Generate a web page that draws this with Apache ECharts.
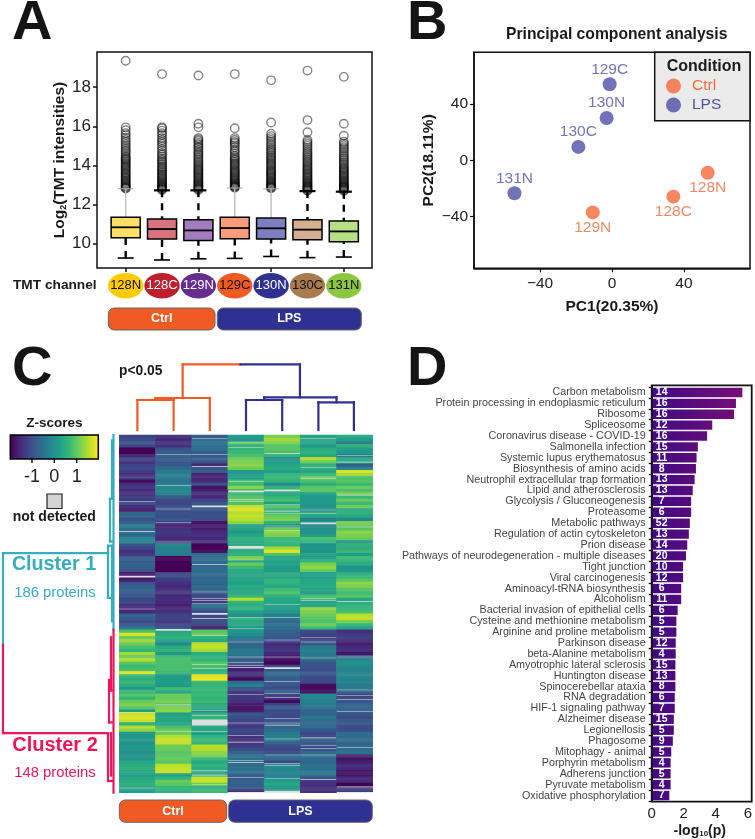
<!DOCTYPE html>
<html><head><meta charset="utf-8">
<style>html,body{margin:0;padding:0;background:#fff}#c{width:755px;height:839px}</style>
<script src="https://cdn.jsdelivr.net/npm/echarts@6/dist/echarts.min.js"></script>
</head><body><div id="c"></div>
<script>
// ---------- Panel A data ----------
const channels = ['128N','128C','129N','129C','130N','130C','131N'];
const whiskerLow  = [9.27,9.17,9.23,9.25,9.35,9.29,9.32];
const boxQ1       = [10.31,10.24,10.17,10.26,10.24,10.20,10.10];
const boxMedian   = [10.84,10.75,10.68,10.80,10.79,10.72,10.63];
const boxQ3       = [11.35,11.26,11.23,11.35,11.31,11.23,11.16];
const whiskerHigh = [12.81,12.73,12.73,12.85,12.81,12.69,12.66];
const outliers128N = [19.35,15.95,15.8,15.65,15.55,15.42,15.3,15.2,15.08,14.98,14.88,14.78,14.7,14.6,14.5,14.42,14.36,14.3,14.25,14.18,14.12,14.05,13.98,13.92,13.86,13.8,13.73,13.66,13.6,13.55,13.48,13.42,13.36,13.3,13.24,13.18,13.12,13.07,13.02,12.97,12.93,12.89,12.85,12.82];
const outliers128C = [18.67,15.95,15.9,15.78,15.65,15.55,15.4,15.3,15.2,15.1,14.98,14.85,14.75,14.62,14.55,14.45,14.35,14.28,14.2,14.13,14.05,13.96,13.9,13.83,13.76,13.7,13.63,13.56,13.5,13.44,13.38,13.32,13.26,13.2,13.14,13.09,13.04,12.99,12.95,12.9,12.86,12.82,12.78,12.75];
const outliers129N = [18.6,16.13,15.95,15.4,15.33,15.25,15.15,15.07,14.97,14.9,14.8,14.7,14.62,14.55,14.46,14.38,14.3,14.22,14.15,14.08,14.0,13.93,13.86,13.8,13.74,13.68,13.62,13.56,13.5,13.44,13.38,13.32,13.26,13.2,13.15,13.1,13.05,13.0,12.95,12.91,12.87,12.83,12.79,12.75];
const outliers129C = [18.67,15.9,15.4,15.3,15.2,15.13,15.03,14.93,14.8,14.72,14.62,14.5,14.42,14.35,14.28,14.2,14.13,14.06,14.0,13.92,13.85,13.78,13.72,13.66,13.6,13.54,13.48,13.42,13.36,13.3,13.25,13.2,13.15,13.1,13.06,13.02,12.98,12.95,12.92,12.89,12.86];
const outliers130N = [18.35,16.2,15.62,15.5,15.4,15.3,15.2,15.1,15.0,14.9,14.82,14.74,14.66,14.58,14.5,14.42,14.35,14.28,14.2,14.13,14.06,14.0,13.92,13.85,13.78,13.72,13.66,13.6,13.54,13.48,13.42,13.36,13.3,13.24,13.18,13.13,13.08,13.03,12.98,12.94,12.9,12.86,12.83];
const outliers130C = [18.85,16.32,15.7,15.3,15.2,15.1,15.0,14.9,14.8,14.7,14.62,14.54,14.46,14.38,14.3,14.22,14.15,14.08,14.0,13.93,13.86,13.8,13.74,13.67,13.6,13.54,13.48,13.42,13.36,13.3,13.24,13.18,13.13,13.08,13.03,12.98,12.94,12.9,12.86,12.82,12.78,12.74,12.71];
const outliers131N = [18.53,16.13,15.52,15.22,15.12,15.03,14.93,14.85,14.75,14.65,14.55,14.46,14.38,14.3,14.22,14.14,14.06,13.98,13.9,13.84,13.78,13.72,13.66,13.6,13.54,13.48,13.42,13.36,13.3,13.24,13.18,13.13,13.08,13.03,12.98,12.94,12.9,12.86,12.82,12.78,12.74,12.7];
const outlierLists = [outliers128N,outliers128C,outliers129N,outliers129C,outliers130N,outliers130C,outliers131N];
const yTicksA = [10,12,14,16,18];
const boxFill = ['#FFE066','#D8727F','#A37CBF','#F99C7A','#7C7FC0','#D3AE8F','#B6DF86'];
const ovalFill = ['#FFCB05','#BE1E2D','#662D91','#F15A22','#2E3192','#A97C50','#8DC63F'];
const ovalText = ['#111','#fff','#fff','#111','#fff','#111','#111'];
const solidUpper = [true,false,false,true,true,false,false];

// ---------- Panel B data ----------
const pcaCtrl = [[53.2,-8.8,'128N'],[34.1,-25.8,'128C'],[-10.7,-37,'129N']];
const pcaLps  = [[-1.3,54,'129C'],[-3,30,'130N'],[-18.7,9.5,'130C'],[-54.2,-23.4,'131N']];
const pcaTicks = [-40,0,40];

// ---------- Panel C data (z-score read in steps of 1/8.5, one value per band of three proteins) ----------
const heat128N = [-10,-9,-8,-10,-17,-17,-13,-10,-12,-10,-9,-11,-13,-10,-16,-12,-11,-13,-12,-10,-11,-8,-13,-15,-6,-5,-9,-6,-3,-5,-4,-6,-1,-2,-8,-10,-12,-11,-7,-7,-6,-7,-8,-14,-15,-14,-8,-7,-6,-8,-7,-10,-9,-12,-13,-13,-6,-7,-9,-8,-3,7,15,9,12,9,7,5,12,9,13,8,6,7,15,6,4,6,4,1,6,8,5,9,10,8,2,14,15,14,4,13,11,1,1,2,0,1,1,0,0,1,3,4,5,3,2,3,4,5,3,2];
const heat128C = [-11,-13,-12,-12,-8,-7,-6,-7,-8,-7,-5,-3,-2,-3,-4,-2,-1,-1,-3,-7,-9,-10,-8,-9,-8,-9,-7,-11,-14,-12,-11,-12,-13,-12,-1,-2,-2,-3,-17,-18,-17,-18,-17,-10,-9,-11,-12,-13,-12,-11,-13,-12,-13,-14,-13,-12,-10,-10,-11,-10,-7,3,4,5,2,-1,4,5,1,6,7,7,7,7,6,1,2,2,1,6,3,9,9,10,8,10,11,2,3,3,3,7,9,9,13,14,14,9,9,8,8,9,8,13,14,14,2,5,9,8,5,5];
const heat129N = [-7,-5,-5,-4,-4,-7,-8,-6,-9,-13,-8,-7,-14,-13,-13,-8,-15,-14,-12,-13,-10,-8,-6,-8,-9,-8,-9,-15,-14,-14,-13,-12,-13,-11,-18,-19,-15,-5,-5,-5,-6,-5,-5,-5,-6,-5,-6,-5,-6,-8,-9,-10,-11,-3,-8,-8,-9,-9,-8,-11,-13,8,9,5,2,13,14,12,4,5,5,8,7,5,5,15,16,6,5,6,5,6,5,6,4,4,-1,5,5,4,6,4,3,2,5,6,5,13,13,11,10,6,3,5,4,3,4,14,14,9,5,6];
const heat129C = [2,1,9,5,5,6,7,9,10,11,9,1,1,2,7,6,11,6,6,8,9,7,14,15,13,14,13,11,2,3,1,3,5,3,4,5,4,5,10,3,9,6,4,3,3,3,2,4,3,3,6,13,5,4,5,2,0,5,4,3,1,1,0,-3,-5,-6,-5,-3,-3,-5,-7,-8,-12,-14,-12,-12,-16,-5,-2,-8,-11,-11,-11,-12,-14,-16,-14,-7,-9,-10,-11,-11,-9,-10,-12,-12,-11,-11,-9,-6,-5,-4,-5,-5,-4,-4,-7,-7,-6,-7,-7,-12];
const heat130N = [10,12,10,8,8,7,5,0,1,3,4,2,5,6,5,-1,5,6,3,5,7,2,8,5,6,9,10,5,-1,9,11,10,6,5,5,12,15,7,3,2,3,1,2,4,3,5,5,3,6,7,5,3,3,2,1,1,-2,-4,-5,-5,-4,-6,-7,-8,-9,-13,-12,-11,-13,-14,-15,-17,-9,-8,-5,-6,-7,-7,-8,-9,-6,-10,-12,-16,-10,-7,-9,-9,-9,-8,-7,-6,-5,-3,-2,-4,-6,-9,-10,-8,-6,-5,-10,-1,-1,-2,-2,-1,2,3,1,2];
const heat130C = [3,4,3,1,4,5,3,13,9,5,4,3,6,9,7,4,8,8,2,1,1,1,0,0,4,3,-2,1,-1,0,0,2,7,5,0,1,0,3,1,5,10,11,9,2,2,3,3,4,3,1,7,6,3,3,11,10,9,8,7,9,6,-9,-10,-11,-9,-7,-3,-2,-3,-3,-5,-8,-8,-9,-7,-9,-9,-10,-16,-16,-15,-1,-1,-2,-3,-5,-6,-6,-3,-5,-6,-4,-8,-10,-8,-7,-7,-9,-8,-5,-4,-5,-6,-4,-5,-3,-4,-8,-11,-12,-12,-12];
const heat131N = [4,2,-3,5,2,1,-3,3,4,-7,-1,15,12,7,8,6,9,7,10,6,9,6,9,4,5,3,-1,10,9,8,11,10,9,1,5,4,6,2,6,5,4,0,1,4,6,8,11,10,8,6,8,3,4,5,5,7,13,14,10,5,3,-12,-11,-10,-13,-14,-13,-12,-15,-6,-1,0,-1,-2,-2,-1,-2,-1,-3,-3,-6,-10,-9,-8,-6,-7,-5,-8,-9,-7,-8,-9,-9,-5,-5,-5,-6,-5,-5,-4,-13,-15,-14,-12,-13,-15,-15,-12,-13,-17,-9,-11];
const heatColumns = [heat128N,heat128C,heat129N,heat129C,heat130N,heat130C,heat131N];
// rows (of 336 thin rows) with no value, one list per channel
const missing128N = [62,90,132,133,163,260,331];
const missing128C = [18,47,69,82,100,182,183,253,278];
const missing129N = [3,18,29,66,67,121,147,153,155,158,167,168,172,188,215,219,258,263,267,268,269,270,271,272,278,315,319,328];
const missing129C = [6,11,43,52,53,60,62,104,105,106,117,171,181,194,208,213,216,218,243,270,282,288,305,307,321,335];
const missing130N = [17,51,52,65,71,73,85,89,159,171,192,208,218,219,231,242,246,266,270,272,285,300,308,310,322,334,335];
const missing130C = [3,30,40,70,73,82,83,153,155,190,194,209,284,291,294,300,323];
const missing131N = [19,25,56,86,156,208,239,244,248,259,293,330,335];
const missingColumns = [missing128N,missing128C,missing129N,missing129C,missing130N,missing130C,missing131N];
const zColors = ['#440154','#482878','#3E4A89','#31688E','#26828E','#1F9E89','#35B779','#6DCD59','#B4DE2C','#FDE725'];
// dendrograms: polylines as [x, height]
const treeCtrl = [
 [[0.5,0],[0.5,30],[1.5,30],[1.5,0]],
 [[1.0,30],[1.0,32],[2.5,32],[2.5,0]],
 [[1.75,32],[1.75,65.7],[3.35,65.7]]];
const treeLps = [
 [[3.5,0],[3.5,30],[4.5,30],[4.5,0]],
 [[5.5,0],[5.5,27.7],[6.48,27.7],[6.48,0]],
 [[4.0,30],[4.0,32.7],[6.0,32.7],[6.0,27.7]],
 [[3.35,65.7],[4.99,65.7],[4.99,32.7]]];
const sideTeal = [
 [[113.5,0],[113.5,183]],[[112,5],[112,60],[110,60],[110,100],[112,100]],
 [[108,104],[108,153],[112,153]],[[108,104],[112,104],[112,175]],
 [[108,111],[3,111],[3,197]]];
const sidePink = [
 [[113.5,183],[113.5,336]],[[111,190],[111,240],[112,240]],[[109,230],[109,270],[112,270]],
 [[108,280],[108,325],[112,325]],[[111,280],[111,320]],
 [[3,197],[3,280],[108,280]]];

// ---------- Panel D data ----------
const pathways = ['Carbon metabolism','Protein processing in endoplasmic reticulum','Ribosome','Spliceosome','Coronavirus disease - COVID-19','Salmonella infection','Systemic lupus erythematosus','Biosynthesis of amino acids','Neutrophil extracellular trap formation','Lipid and atherosclerosis','Glycolysis / Gluconeogenesis','Proteasome','Metabolic pathways','Regulation of actin cytoskeleton','Prion disease','Pathways of neurodegeneration - multiple diseases','Tight junction','Viral carcinogenesis','Aminoacyl-tRNA biosynthesis','Alcoholism','Bacterial invasion of epithelial cells','Cysteine and methionine metabolism','Arginine and proline metabolism','Parkinson disease','beta-Alanine metabolism','Amyotrophic lateral sclerosis','Huntington disease','Spinocerebellar ataxia','RNA degradation','HIF-1 signaling pathway','Alzheimer disease','Legionellosis','Phagosome','Mitophagy - animal','Porphyrin metabolism','Adherens junction','Pyruvate metabolism','Oxidative phosphorylation'];
const logP = [5.66,5.26,5.14,3.78,3.46,2.88,2.8,2.76,2.68,2.56,2.46,2.46,2.38,2.32,2.22,2.14,1.96,1.96,1.84,1.84,1.62,1.54,1.54,1.5,1.5,1.48,1.48,1.48,1.44,1.44,1.38,1.38,1.32,1.22,1.18,1.18,1.18,1.1];
const geneCounts = [14,16,16,12,16,15,11,8,13,13,7,6,52,13,14,20,10,12,6,11,6,5,5,12,4,15,13,8,6,7,15,5,9,5,4,5,4,7];

// ---------- build ----------
const FONT = '"Liberation Sans",Arial,sans-serif';
const ORANGE='#F15A22', NAVY='#2E3192', TEAL='#35AEBE', PINK='#F0145A', INK='#1a1a1a';
const chart = echarts.init(document.getElementById('c'), null, {renderer:'canvas'});

function segments(polys){const o=[];polys.forEach(p=>{for(let i=1;i<p.length;i++)o.push([p[i-1][0],p[i-1][1],p[i][0],p[i][1]]);});return o;}
function treeSeries(name,polys,axis,color,width){
  return {type:'custom',name,xAxisIndex:axis,yAxisIndex:axis,data:segments(polys),silent:true,z:4,encode:{x:[0,2],y:[1,3]},
    renderItem:(p,api)=>{const a=api.coord([api.value(0),api.value(1)]),b=api.coord([api.value(2),api.value(3)]);
      return {type:'line',shape:{x1:a[0],y1:a[1],x2:b[0],y2:b[1]},style:{stroke:color,lineWidth:width,lineCap:'square'}};}};
}
function T(x,y,text,size,fill,bold,align,extra){
  return Object.assign({type:'text',z:20,style:{x,y,text,fill:fill||INK,align:align||'center',verticalAlign:'middle',
    font:(bold?'bold ':'')+size+'px '+FONT}},extra||{});
}
function pill(x,y,w,h,fill,label,size){
  return [{type:'rect',z:20,shape:{x,y,width:w,height:h,r:6},style:{fill,stroke:'#666',lineWidth:1}},
          T(x+w/2,y+h/2,label,size,'#fff',true)];
}

const heatData=[];
heatColumns.forEach((col,c)=>{
  const miss=new Set(missingColumns[c]);
  col.forEach((v,b)=>{for(let k=0;k<3;k++){const r=b*3+k;if(!miss.has(r))heatData.push([c,r,v/8.5]);}});
});
const rowNames=[];for(let r=0;r<336;r++)rowNames.push(String(r));

const boxRows = channels.map((c,i)=>[i,whiskerLow[i],boxQ1[i],boxMedian[i],boxQ3[i],whiskerHigh[i]]);
const outlierData=[];outlierLists.forEach((l,i)=>l.forEach(v=>outlierData.push([i,v])));

function renderBox(params,api){
  const i=api.value(0), px=v=>api.coord([i,v]);
  const band=api.size([1,0])[0], w=band*0.8, cap=band*0.22;
  const pL=px(api.value(1)),p1=px(api.value(2)),pM=px(api.value(3)),p3=px(api.value(4)),pH=px(api.value(5));
  const x=pL[0], solid=solidUpper[i];
  const line=(x1,y1,x2,y2,st)=>({type:'line',shape:{x1,y1,x2,y2},style:Object.assign({stroke:'#000',lineWidth:1.8},st)});
  return {type:'group',children:[
    line(x,pH[1],x,p3[1],solid?{stroke:'#bdbdbd',lineWidth:1.4}:{lineDash:[7,6],lineWidth:2.4}),
    line(x-cap,pH[1],x+cap,pH[1],solid?{stroke:'#aaa',lineWidth:1}:{lineWidth:2.2}),
    line(x,pL[1],x,p1[1],{lineDash:[7,6],lineWidth:2.4}),
    line(x-cap,pL[1],x+cap,pL[1],{lineWidth:1.6}),
    {type:'rect',shape:{x:x-w/2,y:p3[1],width:w,height:p1[1]-p3[1]},style:{fill:boxFill[i],stroke:'#000',lineWidth:1.5}},
    line(x-w/2,pM[1],x+w/2,pM[1],{lineWidth:1.8})
  ]};
}
function renderOval(params,api){
  const i=api.value(0), c=api.coord([i,8.76]), y=c[1]+17.7;
  return {type:'group',children:[
    {type:'ellipse',shape:{cx:c[0],cy:y,rx:17.7,ry:12.7},style:{fill:ovalFill[i]}},
    {type:'text',style:{x:c[0],y:y,text:channels[i],align:'center',verticalAlign:'middle',fill:ovalText[i],font:'13px '+FONT}}
  ]};
}

const axisInk={onZero:false,lineStyle:{color:'#111',width:1.5}};
const hiddenVal=(min,max,extra)=>Object.assign({type:'value',show:false,min,max},extra||{});

const option={
  animation:false,
  backgroundColor:'#fff',
  textStyle:{fontFamily:FONT},
  grid:[
    {left:107.5,top:52,width:254.5,height:216},
    {left:474,top:52.3,width:276,height:216,show:true,borderColor:'#111',borderWidth:1.5},
    {left:119.3,top:435,width:253.4,height:357.7,show:true,backgroundColor:'#dedede',borderWidth:0},
    {left:651.7,top:387,width:100,height:414.7},
    {left:119.3,top:360,width:253.4,height:70},
    {left:0,top:435,width:119.3,height:357.7}
  ],
  xAxis:[
    {gridIndex:0,type:'category',data:channels,position:'bottom',axisLine:{show:false},
     axisTick:{show:true,alignWithLabel:true,length:4,lineStyle:{color:'#111',width:1.5}},axisLabel:{show:false}},
    {gridIndex:1,type:'value',min:-76.7,max:76.7,splitLine:{show:false},axisLine:axisInk,
     axisTick:{length:4,lineStyle:{color:'#111',width:1.2},customValues:pcaTicks},
     axisLabel:{customValues:pcaTicks,fontSize:15.5,color:'#222',margin:7,formatter:v=>v<0?'\u2212'+(-v):''+v},
     name:'PC1(20.35%)',nameLocation:'middle',nameGap:30,nameTextStyle:{fontWeight:'bold',fontSize:15.5,color:INK}},
    {gridIndex:2,type:'category',data:channels,show:false},
    {gridIndex:3,type:'value',min:0,max:6,interval:2,splitLine:{show:false},axisLine:axisInk,
     axisTick:{length:4,lineStyle:{color:'#111',width:1.5}},axisLabel:{fontSize:15,color:'#222',margin:5},
     name:'-log{s|10}(p)',nameLocation:'middle',nameGap:23,
     nameTextStyle:{fontWeight:'bold',fontSize:14,color:INK,rich:{s:{fontSize:8,fontWeight:'bold',verticalAlign:'bottom',color:INK,padding:[6,0,0,0]}}}},
    hiddenVal(0,7,{gridIndex:4}),
    hiddenVal(0,119.3,{gridIndex:5})
  ],
  yAxis:[
    {gridIndex:0,type:'value',min:8.76,max:19.8,offset:10.5,splitLine:{show:false},axisLine:{show:false},
     axisTick:{show:true,length:4,lineStyle:{color:'#111',width:1.5},customValues:yTicksA},
     axisLabel:{customValues:yTicksA,fontSize:17,color:'#222',margin:6},
     name:'Log{s|2}(TMT intensities)',nameLocation:'middle',nameGap:28,
     nameTextStyle:{fontWeight:'bold',fontSize:15.5,color:INK,rich:{s:{fontSize:9,fontWeight:'bold',color:INK,padding:[6,0,0,0]}}}},
    {gridIndex:1,type:'value',min:-76.7,max:76.7,splitLine:{show:false},axisLine:axisInk,
     axisTick:{length:4,lineStyle:{color:'#111',width:1.2},customValues:pcaTicks},
     axisLabel:{customValues:pcaTicks,fontSize:15.5,color:'#222',margin:6,formatter:v=>v<0?'\u2212'+(-v):''+v},
     name:'PC2(18.11%)',nameLocation:'middle',nameGap:37,nameTextStyle:{fontWeight:'bold',fontSize:15.5,color:INK}},
    {gridIndex:2,type:'category',data:rowNames,inverse:true,show:false},
    {gridIndex:3,type:'category',data:pathways,inverse:true,axisLine:{lineStyle:{color:'#111',width:1.8}},
     axisTick:{show:true,length:3,lineStyle:{color:'#111',width:1.3}},
     axisLabel:{interval:0,fontSize:10.75,color:'#444',margin:6}},
    hiddenVal(0,70,{gridIndex:4}),
    hiddenVal(0,336,{gridIndex:5,inverse:true})
  ],
  legend:{data:['Ctrl','LPS'],orient:'vertical',left:666,top:78,itemWidth:15,itemHeight:15,itemGap:3,padding:0,
    icon:'circle',textStyle:{color:'inherit',fontSize:15.5,padding:[0,0,0,6]},selectedMode:false,z:22},
  visualMap:{type:'continuous',seriesIndex:[4],min:-1.97,max:1.97,orient:'horizontal',left:10.3,top:435,
    itemWidth:24,itemHeight:88,padding:0,showLabel:false,calculable:false,text:null,hoverLink:false,
    inRange:{color:zColors},realtime:false},
  graphic:{elements:[
    // panel letters
    T(12,24,'A',56,'#141414',true,'left'),
    T(407,24,'B',56,'#141414',true,'left'),
    T(12,370,'C',56,'#141414',true,'left'),
    T(407,370,'D',56,'#141414',true,'left'),
    // panel A
    {type:'rect',z:15,shape:{x:97,y:52,width:275,height:216},style:{fill:'none',stroke:'#111',lineWidth:1.5}},
    T(13,285,'TMT channel',13.7,INK,true,'left'),
    ...pill(108.3,308,106.7,22,ORANGE,'Ctrl',12.5),
    ...pill(217.3,308,144,22,NAVY,'LPS',12.5),
    // panel B
    T(616.7,35,'Principal component analysis',15.7,INK,true),
    {type:'rect',z:3,shape:{x:654.7,y:52.3,width:95.3,height:68.4},style:{fill:'#EBEBEB',stroke:'#111',lineWidth:1.5}},
    T(704,67,'Condition',16,INK,true),
    // panel C
    T(119,371,'p<0.05',13.8,INK,true,'left'),
    T(54.3,423,'Z-scores',13.5,INK,true),
    {type:'rect',z:15,shape:{x:10.3,y:435,width:88,height:24},style:{fill:'none',stroke:'#000',lineWidth:1.5}},
    {type:'line',z:15,shape:{x1:32,y1:459,x2:32,y2:463},style:{stroke:'#000',lineWidth:1.3}},
    {type:'line',z:15,shape:{x1:54.3,y1:459,x2:54.3,y2:463},style:{stroke:'#000',lineWidth:1.3}},
    {type:'line',z:15,shape:{x1:76.7,y1:459,x2:76.7,y2:463},style:{stroke:'#000',lineWidth:1.3}},
    T(32,477,'-1',18,'#222'),T(54.3,477,'0',18,'#222'),T(76.7,477,'1',18,'#222'),
    {type:'rect',z:15,shape:{x:47,y:494,width:15,height:14.5},style:{fill:'#D4D4D4',stroke:'#222',lineWidth:1.2}},
    T(54.3,517,'not detected',14,INK,true),
    T(54,565,'Cluster 1',19.7,TEAL,true),
    T(55,593,'186 proteins',14.8,TEAL,false),
    T(55,745,'Cluster 2',20,PINK,true),
    T(55,773,'148 proteins',14.8,PINK,false),
    ...pill(119.3,800,107.4,22.3,ORANGE,'Ctrl',12.5),
    ...pill(228.7,800,143.6,22.3,NAVY,'LPS',12.5),
    // panel D frame
    {type:'rect',z:15,shape:{x:651.7,y:385.3,width:100,height:416.4},style:{fill:'none',stroke:'#111',lineWidth:1.8}}
  ]},
  series:[
    {type:'scatter',name:'outliers',xAxisIndex:0,yAxisIndex:0,data:outlierData,symbol:'circle',symbolSize:8.5,
     itemStyle:{color:'rgba(255,255,255,0)',borderColor:'rgba(0,0,0,0.6)',borderWidth:1.4},silent:true,z:2,progressive:0,clip:false},
    {type:'custom',name:'boxes',xAxisIndex:0,yAxisIndex:0,data:boxRows,renderItem:renderBox,encode:{x:0,y:[1,2,3,4,5]},z:3,silent:true},
    {type:'scatter',name:'Ctrl',xAxisIndex:1,yAxisIndex:1,data:pcaCtrl,symbol:'circle',symbolSize:14,z:5,
     itemStyle:{color:'#F4693A'},label:{show:true,position:'bottom',distance:0,formatter:p=>p.value[2],color:'#F4693A',fontSize:15.5}},
    {type:'scatter',name:'LPS',xAxisIndex:1,yAxisIndex:1,data:pcaLps,symbol:'circle',symbolSize:14,z:5,
     itemStyle:{color:'#4F4FA8'},label:{show:true,position:'top',distance:0,formatter:p=>p.value[2],color:'#4F4FA8',fontSize:15.5}},
    {type:'heatmap',name:'z',xAxisIndex:2,yAxisIndex:2,data:heatData,progressive:0,silent:true,emphasis:{disabled:true}},
    {type:'bar',name:'pathways',xAxisIndex:3,yAxisIndex:3,data:logP,barWidth:9.4,silent:true,
     itemStyle:{color:{type:'linear',x:651.7,y:0,x2:935,y2:0,global:true,colorStops:[{offset:0,color:'#3F0A82'},{offset:1,color:'#F0145F'}]}},
     label:{show:true,position:[10,'50%'],align:'center',verticalAlign:'middle',color:'#fff',fontWeight:'bold',fontSize:10.5,
       formatter:p=>String(geneCounts[p.dataIndex])}},
    treeSeries('treeCtrl',treeCtrl,4,ORANGE,2.2),
    treeSeries('treeLps',treeLps,4,NAVY,2.2),
    treeSeries('sideTeal',sideTeal,5,TEAL,2.2),
    treeSeries('sidePink',sidePink,5,PINK,2.2),
    {type:'custom',name:'ovals',xAxisIndex:0,yAxisIndex:0,data:channels.map((c,i)=>[i]),renderItem:renderOval,encode:{x:0},z:6,silent:true}
  ]
};
chart.setOption(option);
</script></body></html>
